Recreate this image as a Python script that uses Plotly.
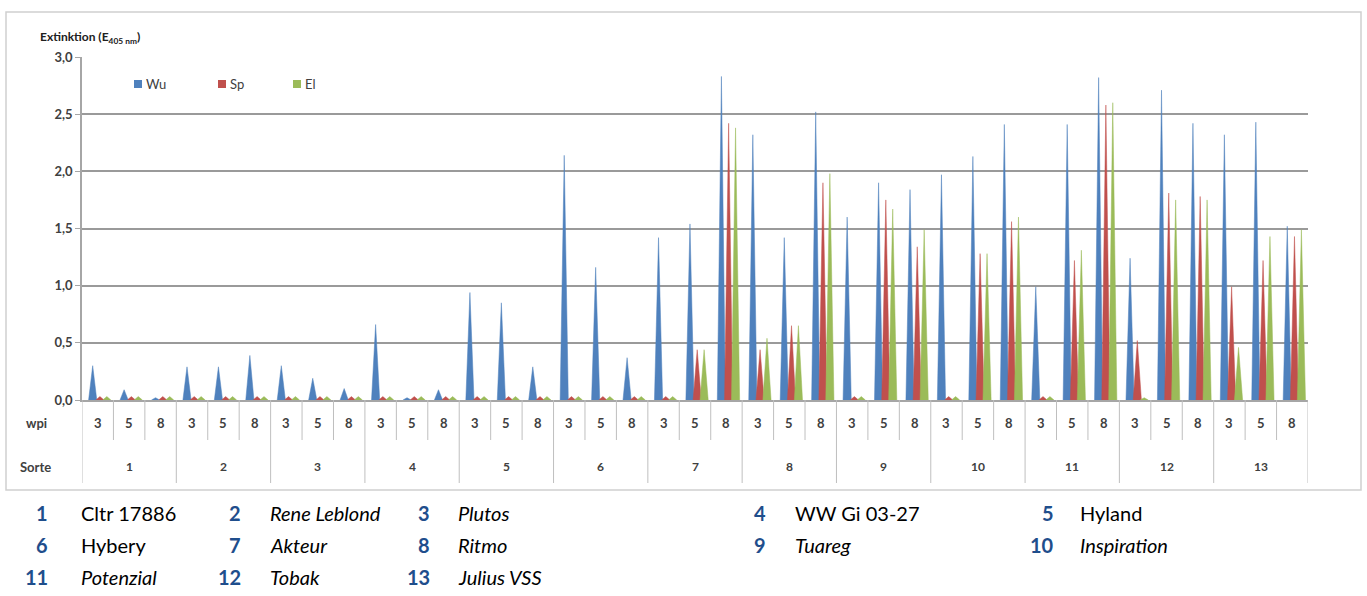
import plotly.graph_objects as go

# ---------------- data ----------------
sorten = ["1", "2", "3", "4", "5", "6", "7", "8", "9", "10", "11", "12", "13"]
wpi = ["3", "5", "8"]
series_names = ["Wu", "Sp", "El"]
series_colors = ["#4F81BD", "#C0504D", "#9BBB59"]

wu = [0.30, 0.09, 0.02, 0.29, 0.29, 0.39, 0.30, 0.19, 0.10, 0.66, 0.02, 0.09,
      0.94, 0.85, 0.29, 2.14, 1.16, 0.37, 1.42, 1.54, 2.83, 2.32, 1.42, 2.52,
      1.60, 1.90, 1.84, 1.97, 2.13, 2.41, 0.99, 2.41, 2.82, 1.24, 2.71, 2.42,
      2.32, 2.43, 1.52]
sp = [0.03, 0.03, 0.03, 0.03, 0.03, 0.03, 0.03, 0.03, 0.03, 0.03, 0.03, 0.03,
      0.03, 0.03, 0.03, 0.03, 0.03, 0.03, 0.03, 0.44, 2.42, 0.44, 0.65, 1.90,
      0.03, 1.75, 1.34, 0.03, 1.28, 1.56, 0.03, 1.22, 2.58, 0.52, 1.81, 1.78,
      0.99, 1.22, 1.43]
el = [0.03, 0.03, 0.03, 0.03, 0.03, 0.03, 0.03, 0.03, 0.03, 0.03, 0.03, 0.03,
      0.03, 0.03, 0.03, 0.03, 0.03, 0.03, 0.03, 0.44, 2.38, 0.54, 0.65, 1.98,
      0.03, 1.67, 1.49, 0.03, 1.28, 1.60, 0.03, 1.31, 2.60, 0.02, 1.75, 1.75,
      0.46, 1.43, 1.49]

yticks = [0.0, 0.5, 1.0, 1.5, 2.0, 2.5, 3.0]

variety_names = ["Cltr 17886", "Rene Leblond", "Plutos", "WW Gi 03-27", "Hyland",
                 "Hybery", "Akteur", "Ritmo", "Tuareg", "Inspiration",
                 "Potenzial", "Tobak", "Julius VSS"]
variety_italic = [False, True, True, False, False,
                  False, True, True, True, True,
                  True, True, True]

# ---------------- geometry helpers ----------------
W, H = 1367, 596
L, R, T, B = 82, 1308, 57, 400
pw, ph = R - L, B - T


def px(x):
    return (x - L) / pw


def py(y):
    return (B - y) / ph


FONT = "Lato"
AXC = "#404040"

fig = go.Figure()

offsets = [-0.16, 0.07, 0.29]
hw = 0.13
ncell = len(sorten) * len(wpi)
for name, col, vals, off in zip(series_names, series_colors, [wu, sp, el], offsets):
    xs, ys = [], []
    for i, v in enumerate(vals):
        c = i + off
        xs += [c - hw, c, c + hw, None]
        ys += [0, v, 0, None]
    fig.add_trace(go.Scatter(x=xs, y=ys, mode="lines", fill="toself",
                             fillcolor=col, line=dict(width=0.5, color=col),
                             name=name, showlegend=False, hoverinfo="skip"))

shapes = []
annotations = []


def ann(x, y, text, font, xref="paper", xanchor="center"):
    annotations.append(dict(x=x, y=y, xref=xref, yref="paper", xanchor=xanchor,
                            yanchor="middle", text=text, showarrow=False, font=font))


# outer frame
shapes.append(dict(type="rect", xref="paper", yref="paper",
                   x0=px(6), x1=px(1361), y0=py(490), y1=py(12),
                   line=dict(color="#D0D0D0", width=1.5), layer="below"))

# category separators
for k in range(ncell + 1):
    bottom = 483 if k % 3 == 0 else 440
    shapes.append(dict(type="line", xref="x", yref="paper",
                       x0=k - 0.5, x1=k - 0.5, y0=0, y1=py(bottom),
                       line=dict(color="#BFBFBF", width=1)))

lab_font = dict(family=FONT, size=13, color=AXC, weight="bold")
# wpi labels
for i in range(ncell):
    ann(i, py(423), wpi[i % 3], lab_font, xref="x")
# sorte labels
for s, lab in enumerate(sorten):
    ann(3 * s + 1, py(466), lab, dict(family=FONT, size=12, color=AXC, weight="bold"), xref="x")
ann(px(36), py(423), "wpi", lab_font)
ann(px(35), py(467), "Sorte", lab_font)

# axis title
ann(px(38), py(38), "Extinktion (E<sub>405 nm</sub>)",
    dict(family=FONT, size=12, color="#202020", weight="bold"), xanchor="left")

# series legend (custom)
leg_x = [134, 218, 293]
for name, col, lx in zip(series_names, series_colors, leg_x):
    shapes.append(dict(type="rect", xref="paper", yref="paper",
                       x0=px(lx), x1=px(lx + 8), y0=py(88), y1=py(80),
                       fillcolor=col, line=dict(width=0)))
    ann(px(lx + 10), py(84), name, dict(family=FONT, size=13, color="#404040"), xanchor="left")

# variety key below the chart
num_right = [50, 243, 432, 768, 1056]
name_left = [79, 268, 456, 793, 1078]
row_y = [513, 545, 577]
for i, (nm, it) in enumerate(zip(variety_names, variety_italic)):
    r, c = divmod(i, 5)
    ann(px(num_right[c]), py(row_y[r]), str(i + 1),
        dict(family=FONT, size=20, color="#1F4E8C", weight="bold"), xanchor="right")
    ann(px(name_left[c]), py(row_y[r]), nm,
        dict(family=FONT, size=20, color="#000000", style="italic" if it else "normal"),
        xanchor="left")

fig.update_layout(
    width=W, height=H,
    margin=dict(l=L, r=W - R, t=T, b=H - B),
    paper_bgcolor="white", plot_bgcolor="white",
    separators=",.",
    shapes=shapes, annotations=annotations,
    xaxis=dict(range=[-0.5, ncell - 0.5], showticklabels=False, showgrid=False,
               zeroline=False, showline=True, linecolor="#A6A6A6", linewidth=1.5,
               fixedrange=True),
    yaxis=dict(range=[0, 3.0], tickvals=yticks, tickformat=".1f",
               showgrid=True, gridcolor="#9A9A9A", gridwidth=1.5,
               zeroline=False, showline=True, linecolor="#A6A6A6", linewidth=1.5,
               ticks="outside", ticklen=5, tickcolor="#A6A6A6",
               tickfont=dict(family=FONT, size=13, color=AXC, weight="bold"),
               fixedrange=True),
)

fig.write_html("out.html", config={"displayModeBar": False},
               post_script="document.body.style.margin='0';document.body.style.overflow='hidden';")
